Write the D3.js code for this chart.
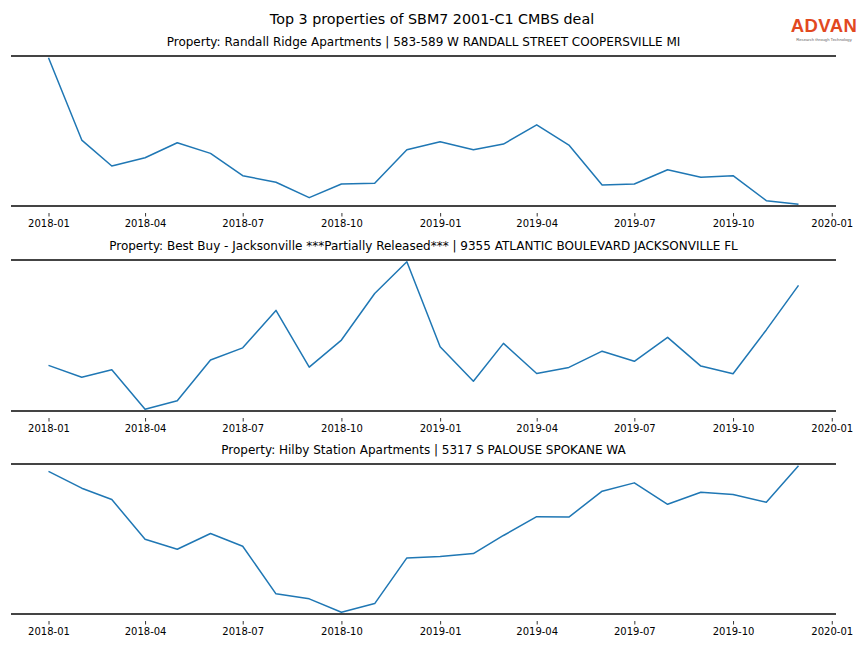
<!DOCTYPE html>
<html>
<head>
<meta charset="utf-8">
<script src="https://cdn.jsdelivr.net/npm/d3@7"></script>
<style>
  html, body { margin: 0; padding: 0; background: #fff; }
  svg { display: block; font-family: "DejaVu Sans", sans-serif; }
</style>
</head>
<body>
<svg id="chart" width="864" height="648"></svg>
<script>
// ---- data ----
const months = ["2018-01","2018-02","2018-03","2018-04","2018-05","2018-06","2018-07","2018-08","2018-09","2018-10","2018-11","2018-12",
                "2019-01","2019-02","2019-03","2019-04","2019-05","2019-06","2019-07","2019-08","2019-09","2019-10","2019-11","2019-12"];
const tickLabels = ["2018-01","2018-04","2018-07","2018-10","2019-01","2019-04","2019-07","2019-10","2020-01"];
const mainTitle = "Top 3 properties of SBM7 2001-C1 CMBS deal";
const panelTitles = [
  "Property: Randall Ridge Apartments | 583-589 W RANDALL STREET COOPERSVILLE MI",
  "Property: Best Buy - Jacksonville ***Partially Released*** | 9355 ATLANTIC BOULEVARD JACKSONVILLE FL",
  "Property: Hilby Station Apartments | 5317 S PALOUSE SPOKANE WA"
];
const randallRidge = [148.5, 66, 40, 48.3, 63.3, 52.7, 30.3, 23.7, 8.3, 22, 22.7, 56.3,
                      64.3, 56.3, 62, 81.3, 61, 21, 22, 36.3, 28.7, 30.3, 5.3, 1.7];
const bestBuy      = [46, 34.3, 41.7, 2.7, 11, 51.3, 63.3, 100.3, 44.3, 71, 117, 148.3,
                      64.3, 30.3, 67.7, 38, 44, 60, 50, 73.7, 45.3, 37.7, 81, 125];
const hilbyStation = [141.7, 125, 113.7, 74.3, 64.3, 80, 67.3, 20, 15, 1.7, 10.3, 55.7,
                      57, 60, 78, 96.7, 96.3, 122, 130.3, 109, 121, 118.7, 111, 147.3];
const seriesList = [randallRidge, bestBuy, hilbyStation];

// ---- layout ----
const W = 864, H = 648;
const left = 11, right = 836;
const panels = [{top: 56, bottom: 206}, {top: 260, bottom: 411}, {top: 464, bottom: 614}];

const parse = d3.timeParse("%Y-%m");
const dates = months.map(parse);
const t0 = dates[0], t1 = dates[dates.length - 1];
const span = t1 - t0;
const x = d3.scaleTime()
  .domain([new Date(+t0 - 0.05 * span), new Date(+t1 + 0.05 * span)])
  .range([left, right]);
const tickDates = tickLabels.map(parse);

const svg = d3.select("#chart");
svg.append("rect").attr("width", W).attr("height", H).attr("fill", "#fff");

svg.append("text").attr("x", 432).attr("y", 24).attr("text-anchor", "middle")
  .attr("font-size", 14.3).attr("fill", "#000").text(mainTitle);

// logo
const logo = svg.append("g");
logo.append("text").attr("x", 824).attr("y", 32).attr("text-anchor", "middle")
  .attr("font-family", "Liberation Sans, Arial, sans-serif").attr("font-weight", "bold")
  .attr("font-size", 18.5).attr("fill", "#e2491f").attr("letter-spacing", 0.4).text("ADVAN");
logo.append("text").attr("x", 824).attr("y", 40.5).attr("text-anchor", "middle")
  .attr("font-family", "Liberation Sans, Arial, sans-serif")
  .attr("font-size", 4.2).attr("fill", "#666").text("Research through Technology");

panels.forEach((p, i) => {
  const vals = seriesList[i];
  const [mn, mx] = d3.extent(vals);
  const pad = 0.012 * (mx - mn);
  const y = d3.scaleLinear().domain([mn - pad, mx + pad]).range([p.bottom, p.top]);
  const g = svg.append("g");

  g.append("text").attr("x", (left + right) / 2).attr("y", p.top - 10)
    .attr("text-anchor", "middle").attr("font-size", 12).attr("fill", "#000")
    .text(panelTitles[i]);

  const axis = d3.axisBottom(x).tickValues(tickDates).tickFormat(d3.timeFormat("%Y-%m"))
    .tickSizeInner(3.5).tickSizeOuter(0).tickPadding(3);
  const ax = g.append("g").attr("transform", `translate(0,${p.bottom + 7})`).call(axis);
  ax.select(".domain").remove();
  ax.selectAll(".tick line").attr("stroke", "#000").attr("stroke-width", 0.8);
  ax.selectAll(".tick text").attr("font-size", 10).attr("fill", "#000")
    .attr("font-family", "DejaVu Sans, sans-serif");

  g.append("line").attr("x1", left).attr("x2", right).attr("y1", p.top).attr("y2", p.top)
    .attr("stroke", "#444").attr("stroke-width", 2);
  g.append("line").attr("x1", left).attr("x2", right).attr("y1", p.bottom).attr("y2", p.bottom)
    .attr("stroke", "#444").attr("stroke-width", 2);

  const line = d3.line().x((d, j) => x(dates[j])).y(d => y(d));
  g.append("path").datum(vals).attr("d", line).attr("fill", "none")
    .attr("stroke", "#1f77b4").attr("stroke-width", 1.5).attr("stroke-linejoin", "round");
});
</script>
</body>
</html>
